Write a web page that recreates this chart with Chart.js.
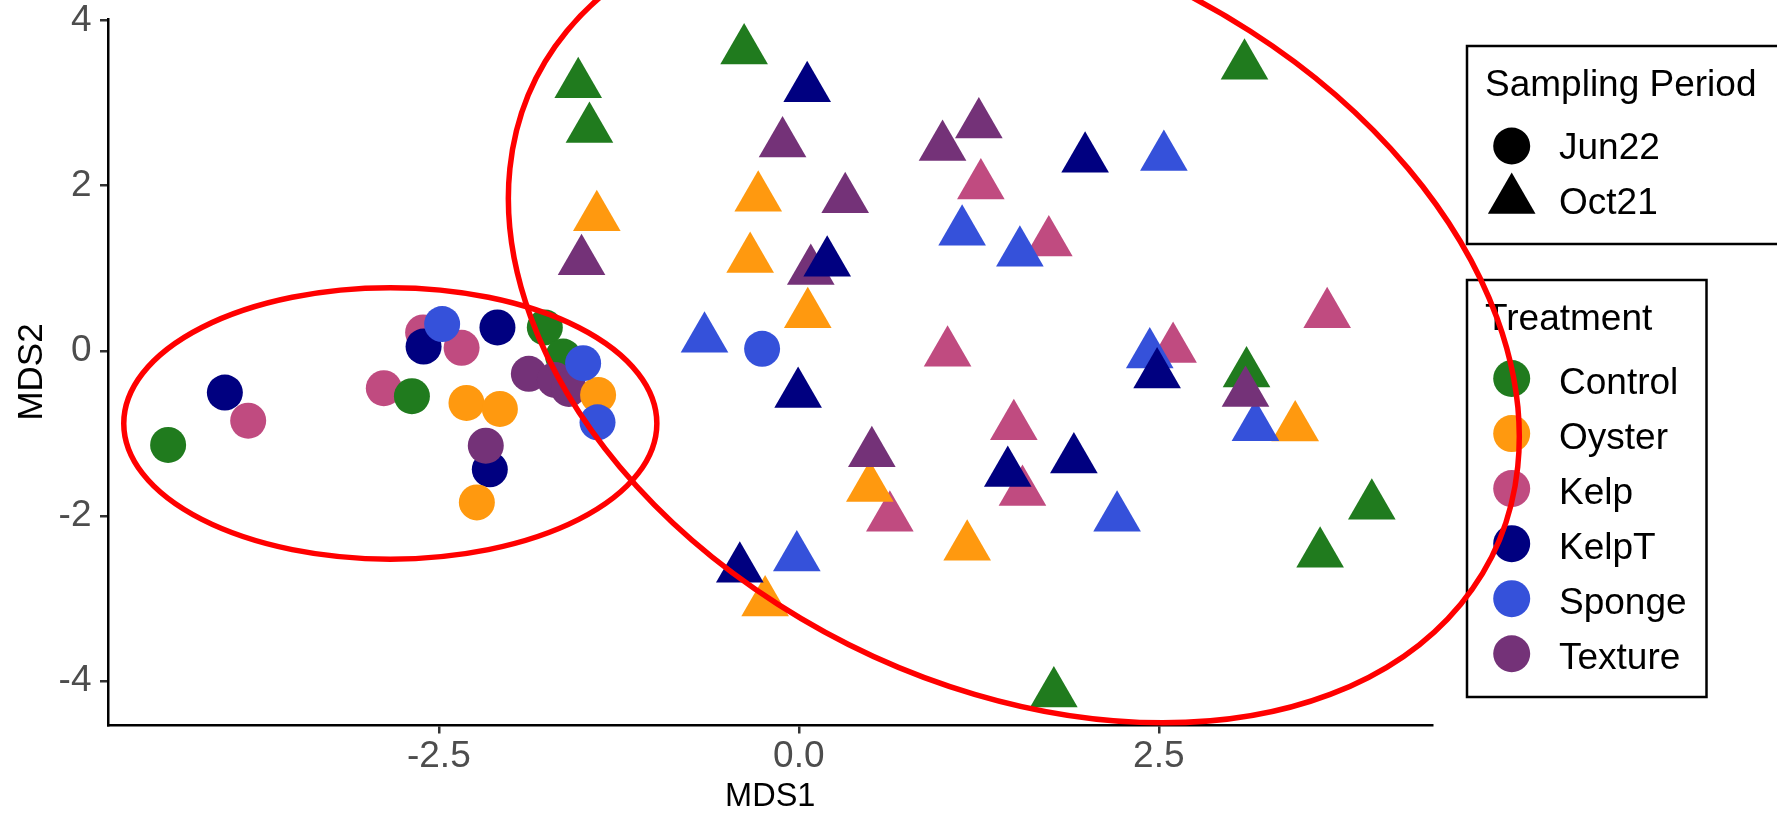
<!DOCTYPE html>
<html>
<head>
<meta charset="utf-8">
<style>
  html, body { margin: 0; padding: 0; background: #fff; }
  canvas { display: block; }
</style>
<script src="https://cdn.jsdelivr.net/npm/chart.js@4.4.0/dist/chart.umd.min.js"></script>
</head>
<body>
<canvas id="chart" width="1777" height="814"></canvas>
<script>
// categories
const TREATMENTS = ['Control', 'Oyster', 'Kelp', 'KelpT', 'Sponge', 'Texture'];
const PERIODS = ['Jun22', 'Oct21'];

// axis ticks
const X_TICKS = [-2.5, 0, 2.5];
const X_TICK_LABELS = ['-2.5', '0.0', '2.5'];
const Y_TICKS = [-4, -2, 0, 2, 4];
const Y_TICK_LABELS = ['-4', '-2', '0', '2', '4'];

// Jun22 samples (circles), [MDS1, MDS2]
const CONTROL_JUN22 = [[-4.38, -1.14], [-2.687, -0.55], [-1.764, 0.283], [-1.637, -0.069]];
const OYSTER_JUN22  = [[-2.308, -0.631], [-2.076, -0.704], [-2.236, -1.836], [-1.394, -0.534]];
const KELP_JUN22    = [[-3.824, -0.846], [-2.882, -0.453], [-2.609, 0.222], [-2.342, 0.036]];
const KELPT_JUN22   = [[-3.986, -0.506], [-2.606, 0.052], [-2.093, 0.283], [-2.146, -1.436]];
const SPONGE_JUN22  = [[-2.477, 0.324], [-1.498, -0.149], [-1.398, -0.866], [-0.255, 0.024]];
const TEXTURE_JUN22 = [[-2.174, -1.149], [-1.875, -0.279], [-1.694, -0.352], [-1.597, -0.461]];

// Oct21 samples (triangles)
const CONTROL_OCT21 = [[-1.532, 3.228], [-1.454, 2.687], [-0.38, 3.637], [3.095, 3.455],
                       [3.109, -0.275], [3.979, -1.876], [3.62, -2.459], [1.771, -4.15]];
const OYSTER_OCT21  = [[-1.403, 1.619], [-0.282, 1.853], [-0.338, 1.113], [0.062, 0.442],
                       [0.493, -1.663], [1.169, -2.374], [-0.234, -3.05], [3.447, -0.93]];
const KELP_OCT21    = [[1.264, 2.002], [1.736, 1.311], [1.033, -0.024], [3.669, 0.442],
                       [2.599, 0.021], [1.493, -0.914], [1.553, -1.711], [0.632, -2.022]];
const KELPT_OCT21   = [[0.058, 3.18], [0.197, 1.068], [-0.005, -0.522], [1.988, 2.326],
                       [2.488, -0.287], [1.91, -1.318], [1.451, -1.48], [-0.41, -2.641]];
const SPONGE_OCT21  = [[-0.655, 0.146], [1.134, 1.444], [1.535, 1.189], [2.535, 2.347],
                       [2.437, -0.044], [3.171, -0.926], [2.21, -2.022], [-0.014, -2.504]];
const TEXTURE_OCT21 = [[-0.113, 2.512], [-1.509, 1.085], [0.322, 1.837], [0.083, 0.967],
                       [0.998, 2.468], [1.25, 2.743], [3.102, -0.51], [0.507, -1.242]];

// hand drawn red ellipses, in data units: centre + two conjugate half-axes
const ELLIPSE_CX = [-2.837, 1.493];
const ELLIPSE_CY = [-0.88, 0.403];
const ELLIPSE_U = [[1.851, 0], [3.354, 0]];
const ELLIPSE_V = [[0, 1.644], [1.035, -4.91]];

const COLORS = {
  Control: '#207B1E', Oyster: '#FF990F', Kelp: '#C04B80',
  KelpT: '#000080', Sponge: '#3551DA', Texture: '#743278'
};
const JUN22 = { Control: CONTROL_JUN22, Oyster: OYSTER_JUN22, Kelp: KELP_JUN22,
  KelpT: KELPT_JUN22, Sponge: SPONGE_JUN22, Texture: TEXTURE_JUN22 };
const OCT21 = { Control: CONTROL_OCT21, Oyster: OYSTER_OCT21, Kelp: KELP_OCT21,
  KelpT: KELPT_OCT21, Sponge: SPONGE_OCT21, Texture: TEXTURE_OCT21 };

// draw order, later = on top
const CIRCLE_ORDER = ['Kelp', 'Control', 'KelpT', 'Texture', 'Oyster', 'Sponge'];
const TRIANGLE_ORDER = ['Kelp', 'Control', 'Oyster', 'Sponge', 'Texture', 'KelpT'];

const FONT = "'Liberation Sans', Arial, Helvetica, sans-serif";

function makeSet(name, period, pts) {
  const tri = period === 'Oct21';
  return {
    label: name + ' ' + period,
    data: pts.map(p => ({ x: p[0], y: p[1] })),
    backgroundColor: COLORS[name],
    borderWidth: 0,
    pointStyle: tri ? 'triangle' : 'circle',
    pointRadius: tri ? 27.5 : 18,
    pointHoverRadius: tri ? 27.5 : 18,
    pointBorderWidth: 0,
    clip: false
  };
}

const datasets = [];
CIRCLE_ORDER.forEach(n => datasets.push(makeSet(n, 'Jun22', JUN22[n])));
TRIANGLE_ORDER.forEach(n => datasets.push(makeSet(n, 'Oct21', OCT21[n])));
datasets.forEach((d, i) => { d.order = datasets.length - i; });

function triangle(ctx, x, y, r) {
  ctx.beginPath();
  ctx.moveTo(x, y - r);
  ctx.lineTo(x + r * Math.sin(Math.PI / 3), y + r / 2);
  ctx.lineTo(x - r * Math.sin(Math.PI / 3), y + r / 2);
  ctx.closePath();
  ctx.fill();
}

// two legend boxes on the right
const legendBoxes = {
  id: 'legendBoxes',
  afterDatasetsDraw(chart) {
    const ctx = chart.ctx;
    ctx.save();
    ctx.lineWidth = 2.5;
    ctx.strokeStyle = '#000';
    ctx.strokeRect(1467, 46, 312, 198);
    ctx.strokeRect(1467, 280, 239.5, 417);

    ctx.fillStyle = '#000';
    ctx.font = '37px ' + FONT;
    ctx.textBaseline = 'alphabetic';
    ctx.textAlign = 'left';
    ctx.fillText('Sampling Period', 1485, 96);
    ctx.beginPath();
    ctx.arc(1511.7, 146, 18.5, 0, Math.PI * 2);
    ctx.fill();
    ctx.fillText(PERIODS[0], 1559, 159);
    triangle(ctx, 1511.7, 200, 27.5);
    ctx.fillText(PERIODS[1], 1559, 214);

    ctx.fillText('Treatment', 1485, 329.5);
    TREATMENTS.forEach((t, i) => {
      const cy = 378.5 + i * 55.05;
      ctx.fillStyle = COLORS[t];
      ctx.beginPath();
      ctx.arc(1511.7, cy, 18.5, 0, Math.PI * 2);
      ctx.fill();
      ctx.fillStyle = '#000';
      ctx.fillText(t, 1559, cy + 15);
    });
    ctx.restore();
  }
};

// red ellipses on top of everything
const ellipses = {
  id: 'ellipses',
  afterDraw(chart) {
    const ctx = chart.ctx;
    const xs = chart.scales.x, ys = chart.scales.y;
    ctx.save();
    ELLIPSE_CX.forEach((cx, i) => {
      const cy = ELLIPSE_CY[i];
      const px = xs.getPixelForValue(cx), py = ys.getPixelForValue(cy);
      const u = ELLIPSE_U[i], v = ELLIPSE_V[i];
      const ux = xs.getPixelForValue(cx + u[0]) - px, uy = ys.getPixelForValue(cy + u[1]) - py;
      const vx = xs.getPixelForValue(cx + v[0]) - px, vy = ys.getPixelForValue(cy + v[1]) - py;
      ctx.save();
      ctx.beginPath();
      ctx.transform(ux, uy, vx, vy, px, py);
      ctx.arc(0, 0, 1, 0, Math.PI * 2);
      ctx.restore();
      ctx.lineWidth = 5.5;
      ctx.strokeStyle = '#FF0000';
      ctx.stroke();
    });
    ctx.restore();
  }
};

new Chart(document.getElementById('chart').getContext('2d'), {
  type: 'scatter',
  data: { datasets },
  options: {
    responsive: false,
    animation: false,
    devicePixelRatio: 1,
    layout: { autoPadding: false, padding: { left: 0, top: 19, right: 345, bottom: 0 } },
    plugins: { legend: { display: false }, tooltip: { enabled: false } },
    scales: {
      x: {
        type: 'linear', min: -4.794, max: 4.397,
        afterBuildTicks: s => { s.ticks = X_TICKS.map(v => ({ value: v })); },
        afterFit: s => { s.height = 89; s.paddingLeft = 0; s.paddingRight = 0; },
        ticks: {
          padding: 1, color: '#4D4D4D', font: { family: FONT, size: 37 },
          callback: (v) => X_TICK_LABELS[X_TICKS.indexOf(v)]
        },
        grid: { drawOnChartArea: false, drawTicks: true, tickLength: 8.5, color: '#333', lineWidth: 2.5 },
        border: { display: true, color: '#000', width: 2.5 },
        title: { display: true, text: 'MDS1', color: '#000', font: { family: FONT, size: 32.5, lineHeight: 0.8 }, padding: { top: 0, bottom: 4 } }
      },
      y: {
        type: 'linear', min: -4.533, max: 4.02,
        afterBuildTicks: s => { s.ticks = Y_TICKS.map(v => ({ value: v })); },
        afterFit: s => { s.width = 108.5; s.paddingTop = 0; s.paddingBottom = 0; },
        ticks: {
          padding: 8.5, color: '#4D4D4D', font: { family: FONT, size: 37 },
          callback: (v) => Y_TICK_LABELS[Y_TICKS.indexOf(v)]
        },
        grid: { drawOnChartArea: false, drawTicks: true, tickLength: 8.5, color: '#333', lineWidth: 2.5 },
        border: { display: true, color: '#000', width: 2.5 },
        title: { display: true, text: 'MDS2', color: '#000', font: { family: FONT, size: 35, lineHeight: 1 }, padding: { top: 15, bottom: 0 } }
      }
    }
  },
  plugins: [legendBoxes, ellipses]
});
</script>
</body>
</html>
